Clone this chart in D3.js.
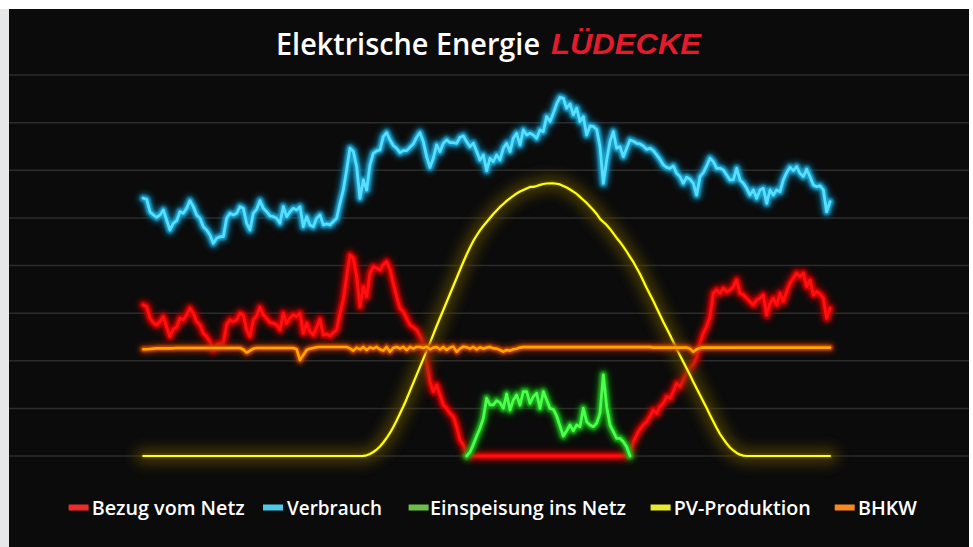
<!DOCTYPE html>
<html><head><meta charset="utf-8">
<script src="https://cdn.jsdelivr.net/npm/d3@7"></script>
<style>html,body{margin:0;padding:0;background:#fff;overflow:hidden}</style>
</head><body>
<svg id="c" width="973" height="547"></svg>
<script>
// ---------- DATA ----------
const seriesNames = ["Bezug vom Netz", "Verbrauch", "Einspeisung ins Netz", "PV-Produktion", "BHKW"];
const legendColors = ["#ee2a2f", "#4fc8e8", "#6cc04a", "#ece832", "#f7891f"];
const gridValues = [0, 50, 100, 150, 200, 250, 300, 350, 400];
const timeSlots = d3.range(0, 207); // sample index over the day

const bezug = [
158.6,156.8,144.6,140.0,137.6,141.0,146.3,135.8,125.3,133.0,
135.1,144.6,142.8,148.1,155.1,149.8,141.0,137.6,128.8,125.3,
120.1,111.3,116.6,118.3,118.3,137.6,142.8,141.0,142.8,149.8,
148.1,132.3,125.3,142.8,147.0,156.1,148.1,144.6,140.0,139.3,
137.6,132.3,149.8,139.3,144.6,148.1,146.3,149.8,128.8,139.3,
130.6,
127.0,135.1,143.5,127.0,128.1,126.0,129.5,132.3,149.8,163.8,
188.3,211.1,207.6,188.3,156.8,177.8,167.3,191.8,198.8,197.1,
195.3,200.6,204.0,196.0,181.3,167.3,155.1,151.6,144.6,137.6,
135.1,132.3,126.0,118.3,97.3,78.1,67.6,74.6,64.1,53.6,
50.0,44.8,41.3,30.8,16.8,11.6,2.8,0,0,0,
0,
0,0,0,0,0,0,0,0,0,0,
0,0,0,0,0,0,0,0,0,0,
0,0,0,0,0,0,0,0,0,0,
0,0,0,0,0,0,0,0,0,0,
0,0,0,0,
3.0,15.0,22.0,28.0,32.5,36.0,41.3,
48.3,44.8,51.8,55.3,62.3,60.6,67.6,76.3,72.8,79.8,
86.8,92.1,96.6,103.6,118.3,128.8,135.8,146.3,170.8,174.3,
170.8,176.0,172.6,174.3,177.8,184.8,170.8,169.1,165.6,162.1,
158.6,163.8,165.6,169.1,148.1,160.3,165.6,158.6,170.8,162.1,
172.6,181.3,186.6,191.8,188.3,191.8,177.8,184.8,169.1,172.6,
170.1,165.6,144.6,155.1
];

const verbrauch = [
270.6,269.5,256.5,253.1,250.6,253.1,258.3,247.8,237.3,244.3,
247.1,256.5,254.8,260.0,268.1,261.8,253.1,249.6,240.8,237.3,
232.1,223.3,228.6,230.3,230.3,249.6,254.8,253.1,254.8,261.8,
260.0,244.3,237.3,254.8,259.0,268.1,260.0,256.5,252.0,251.3,
249.6,244.3,261.8,251.3,256.5,260.0,258.3,261.8,240.8,251.3,
242.6,
240.8,249.6,253.1,242.6,243.6,242.6,246.1,249.6,265.3,279.3,
300.3,323.1,319.6,303.8,270.6,289.8,279.3,305.6,317.8,320.3,
321.3,335.3,339.5,331.8,325.9,323.1,318.5,320.6,320.6,324.1,
327.6,334.6,339.5,330.0,314.3,303.1,312.6,326.6,319.6,328.3,
331.8,329.0,329.0,328.3,334.6,336.0,330.0,324.8,328.3,319.6,
310.8,
316.1,299.6,312.6,309.0,316.1,310.8,323.1,328.3,319.6,333.6,
338.8,326.6,342.3,337.0,338.8,337.0,333.6,342.3,340.5,356.3,
351.1,359.8,369.6,376.6,375.6,365.1,369.6,358.1,365.1,351.1,
356.3,337.0,346.5,345.8,343.0,324.8,286.3,310.8,330.0,340.5,
323.1,324.8,314.3,323.1,331.8,330.4,328.3,327.6,325.5,322.0,
323.1,
320.6,316.1,311.5,305.6,303.1,302.0,304.5,296.8,293.3,286.3,
292.6,290.5,286.3,274.0,293.3,297.5,304.5,312.6,309.0,302.0,
302.0,300.3,295.0,289.8,289.8,302.0,289.8,286.3,281.0,274.0,
279.3,270.6,279.3,281.0,265.3,279.3,274.0,279.3,277.5,289.8,
297.5,303.1,299.6,303.8,296.8,293.3,301.0,293.3,284.6,282.8,
283.5,279.3,256.5,267.0
];

const einspeisung = [
null,null,null,null,null,null,null,null,null,null,
null,null,null,null,null,null,null,null,null,null,
null,null,null,null,null,null,null,null,null,null,
null,null,null,null,null,null,null,null,null,null,
null,null,null,null,null,null,null,null,null,null,
null,
null,null,null,null,null,null,null,null,null,null,
null,null,null,null,null,null,null,null,null,null,
null,null,null,null,null,null,null,null,null,null,
null,null,null,null,null,null,null,null,null,null,
null,null,null,null,null,null,
0,4.0,12.0,21.0,29.1,
39.5,60.6,53.6,53.6,58.1,56.0,50.0,65.1,48.3,58.8,
64.1,53.6,67.6,67.6,55.3,62.3,65.8,50.0,67.6,58.8,
50.0,49.0,42.0,31.5,21.0,26.6,32.5,26.6,32.5,30.8,
50.0,36.0,32.5,30.8,34.3,44.8,85.1,51.8,32.5,25.5,
18.6,18.6,15.0,9.8,0,
null,null,null,null,null,null,
null,null,null,null,null,null,null,null,null,null,
null,null,null,null,null,null,null,null,null,null,
null,null,null,null,null,null,null,null,null,null,
null,null,null,null,null,null,null,null,null,null,
null,null,null,null,null,null,null,null,null,null,
null,null,null,null
];

const pvProduktion = [
0,0,0,0,0,0,0,0,0,0,
0,0,0,0,0,0,0,0,0,0,
0,0,0,0,0,0,0,0,0,0,
0,0,0,0,0,0,0,0,0,0,
0,0,0,0,0,0,0,0,0,0,
0,0,0,0,0,0,0,0,0,0,
0,0,0,0,0,0,
0.2,0.7,2.1,4.2,6.8,10.0,14.2,18.9,24.2,30.5,
37.3,44.6,52.0,59.9,68.3,76.7,85.1,93.5,101.9,110.3,
118.7,127.6,136.5,144.9,153.3,161.7,170.1,178.5,186.9,195.3,
203.7,211.6,218.9,225.8,231.5,236.8,241.5,245.7,249.9,254.1,
257.8,261.5,264.6,267.8,270.4,273.0,275.6,277.7,279.3,280.9,
282.5,282.5,283.5,284.6,285.6,286.1,286.3,286.3,285.8,285.1,
283.5,281.9,279.8,277.5,275.1,272.0,268.8,265.7,262.0,258.3,
254.1,248.9,245.7,242.6,238.4,233.8,228.9,224.7,219.8,214.7,
209.0,203.7,197.4,191.1,183.8,176.4,169.6,162.8,155.4,148.1,
140.7,133.9,127.1,119.7,112.4,105.5,98.7,91.9,85.1,77.7,
70.9,64.1,57.2,50.4,43.1,36.2,29.4,23.1,17.9,13.1,
8.9,5.8,3.2,1.4,0.4,
0,0,0,0,0,0,0,0,0,0,
0,0,0,0,0,0,0,0,0,0,
0,0,0,0,0,0
];

const bhkw = [
112.0,112.0,112.4,112.7,113.0,113.0,113.0,113.0,113.0,113.2,
113.4,113.4,113.4,113.4,113.4,113.4,113.4,113.4,113.4,113.4,
113.4,113.4,113.4,113.4,113.4,113.4,113.4,113.4,113.4,113.4,
111.8,108.5,110.6,112.7,
113.4,113.4,113.4,113.4,113.4,113.4,113.4,113.4,113.4,113.4,113.4,113.4,
112.0,100.8,106.0,111.3,112.7,
113.4,114.1,
114.5,114.5,114.5,114.5,114.5,114.5,114.5,114.5,114.5,
113.0,110.6,113.8,112.0,114.5,111.3,114.1,112.7,114.5,112.0,
110.6,114.5,109.5,113.4,114.5,112.7,114.5,111.3,114.5,112.7,
114.5,114.5,113.4,114.8,112.0,113.8,114.5,112.0,114.5,111.3,
113.8,114.8,109.5,112.7,114.8,114.1,112.7,114.5,112.0,114.1,
112.7,113.8,114.5,113.0,112.7,111.3,109.5,111.3,110.6,112.0,
112.7,113.8,
114.3,114.3,114.3,114.3,114.3,114.3,114.3,114.3,114.3,114.3,
114.3,114.3,114.3,114.3,114.3,114.3,114.3,114.3,114.3,114.3,
114.3,114.3,114.3,114.3,114.3,114.3,114.3,114.3,114.3,114.3,
114.3,114.3,114.3,114.3,114.3,114.3,114.3,114.3,114.3,
113.8,113.8,113.8,113.8,113.8,113.8,113.8,113.8,113.8,113.8,
113.8,
112.7,109.5,112.0,113.4,
113.8,113.8,113.8,113.8,113.8,113.8,113.8,113.8,113.8,113.8,
113.8,113.8,113.8,113.8,113.8,113.8,113.8,113.8,113.8,113.8,
113.8,113.8,113.8,113.8,113.8,113.8,113.8,113.8,113.8,113.8,
113.8,113.8,113.8,113.8,113.8,113.8,113.8,113.8,113.8
];

// ---------- DRAW ----------
const W = 973, H = 547;
const svg = d3.select("#c");
svg.append("rect").attr("x", 0).attr("y", 0).attr("width", W).attr("height", H).attr("fill", "#ffffff");
svg.append("rect").attr("x", 0).attr("y", 9).attr("width", 9).attr("height", H - 9).attr("fill", "#e6e7e9");
svg.append("rect").attr("x", 9).attr("y", 9).attr("width", 960).attr("height", H - 9).attr("fill", "#0b0b0b");

const x = d3.scaleLinear().domain([0, timeSlots.length - 1]).range([143.3, 830]);
const y = d3.scaleLinear().domain([0, 400]).range([456, 75]);

svg.append("g").selectAll("line").data(gridValues).join("line")
  .attr("x1", 9).attr("x2", 969)
  .attr("y1", d => y(d)).attr("y2", d => y(d))
  .attr("stroke", "#2c2c2c").attr("stroke-width", 1.5);

const defs = svg.append("defs");
function blur(id, sd) {
  defs.append("filter").attr("id", id).attr("filterUnits", "userSpaceOnUse")
    .attr("x", 0).attr("y", 0).attr("width", W).attr("height", H)
    .append("feGaussianBlur").attr("stdDeviation", sd);
}
blur("b1", 1); blur("b25", 2.5); blur("b6", 6);

const series = [bezug, verbrauch, einspeisung, pvProduktion, bhkw];
const styles = [
  {core: "#ff1010", cw: 3, glow: "#e00000", gw: 7, go: 0.85, halo: "#a00000", hw: 12, ho: 0.6, hf: "b25"},
  {core: "#58deff", cw: 2.8, glow: "#1fa8d8", gw: 7, go: 0.9, halo: "#0a6f94", hw: 12, ho: 0.6, hf: "b25"},
  {core: "#4cff4c", cw: 2.8, glow: "#22b822", gw: 7, go: 0.85, halo: "#107a10", hw: 12, ho: 0.6, hf: "b25"},
  {core: "#ffff10", cw: 2.2, glow: "#807000", gw: 4, go: 0.5, halo: "#5a4a00", hw: 18, ho: 0.6, hf: "b6"},
  {core: "#ffa600", cw: 2.6, glow: "#d85000", gw: 6, go: 0.85, halo: "#902800", hw: 11, ho: 0.55, hf: "b25"}
];

const line = d3.line()
  .defined(d => d != null)
  .x((d, i) => x(timeSlots[i]))
  .y(d => y(d));

const g = svg.append("g").attr("fill", "none")
  .attr("stroke-linejoin", "round").attr("stroke-linecap", "round");
series.forEach((s, k) => {
  const st = styles[k];
  const d = line(s);
  g.append("path").attr("d", d).attr("stroke", st.halo)
    .attr("stroke-width", st.hw).attr("opacity", st.ho).attr("filter", `url(#${st.hf})`);
  g.append("path").attr("d", d).attr("stroke", st.glow)
    .attr("stroke-width", st.gw).attr("opacity", st.go).attr("filter", "url(#b1)");
  g.append("path").attr("d", d).attr("stroke", st.core).attr("stroke-width", st.cw);
});

// Title
svg.append("text").attr("x", 276).attr("y", 55)
  .attr("font-family", "'Open Sans','Noto Sans',sans-serif")
  .attr("font-size", 31).attr("font-weight", 600).attr("fill", "#ffffff")
  .attr("textLength", 264).attr("lengthAdjust", "spacingAndGlyphs")
  .text("Elektrische Energie");
svg.append("text").attr("x", 551).attr("y", 54)
  .attr("font-family", "'Liberation Sans','DejaVu Sans',sans-serif")
  .attr("font-size", 29).attr("font-weight", "bold").attr("font-style", "italic")
  .attr("fill", "#e31b2d")
  .attr("textLength", 150).attr("lengthAdjust", "spacingAndGlyphs")
  .text("LÜDECKE");

// Legend
const legSwatchX = [68.6, 263, 408.6, 650.6, 834.7];
const legTextX = [91.7, 287, 430, 673.7, 858];
const legTextW = [153, 95, 196, 137, 59];
const leg = svg.append("g");
seriesNames.forEach((n, k) => {
  leg.append("rect").attr("x", legSwatchX[k]).attr("y", 504.5).attr("width", 20).attr("height", 6)
    .attr("fill", legendColors[k]);
  leg.append("text").attr("x", legTextX[k]).attr("y", 514.5)
    .attr("font-family", "'Open Sans','Noto Sans',sans-serif")
    .attr("font-size", 20).attr("font-weight", 600).attr("fill", "#ffffff")
    .attr("textLength", legTextW[k]).attr("lengthAdjust", "spacingAndGlyphs")
    .text(n);
});
</script>
</body></html>
